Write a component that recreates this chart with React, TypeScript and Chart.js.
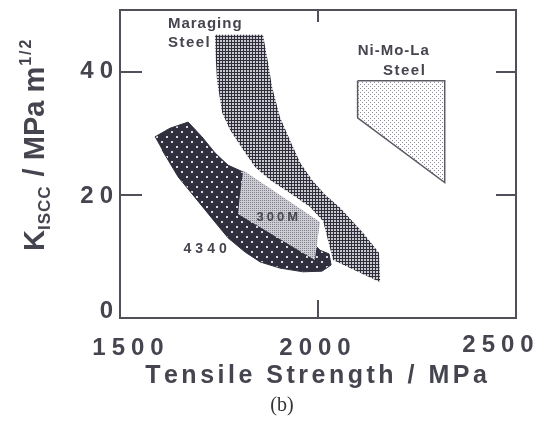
import React, { useEffect, useRef } from "react";
import { Chart, registerables } from "chart.js";

Chart.register(...registerables);

// Outline of each steel's K_ISCC band: tensile strength (MPa) and K_ISCC (MPa m^1/2)
const MARAGING_TS = [1740, 1742, 1745, 1758, 1778, 1811, 1841, 1879, 1929, 1980, 2013, 2025, 2038, 2157, 2154, 2114, 2056, 2018, 1985, 1955, 1929, 1904, 1884, 1874, 1861];
const MARAGING_K = [46, 41.9, 38.6, 33.3, 30.5, 27.3, 24.5, 22.4, 20.3, 18.0, 15.7, 12.7, 9.4, 5.8, 10.6, 13.8, 17.9, 20.0, 22.4, 25.2, 28.9, 32.6, 37.5, 41.4, 46];

const AISI4340_TS = [1588, 1626, 1672, 1707, 1740, 1773, 1811, 1904, 1980, 2005, 2028, 2033, 2010, 1962, 1904, 1854, 1816, 1773, 1732, 1689, 1647, 1606];
const AISI4340_K = [29.4, 30.8, 31.8, 29.4, 26.8, 24.8, 23.7, 18.3, 12.7, 11.0, 10.4, 8.6, 7.6, 7.5, 8.1, 9.1, 10.7, 13.0, 16.2, 19.6, 22.9, 27.3];

const M300_TS = [1811, 2005, 1992, 1798, 1803];
const M300_K = [24.0, 15.6, 9.4, 16.9, 20.0];

const NIMOLA_TS = [2100, 2320, 2320, 2100, 2100];
const NIMOLA_K = [38.5, 38.5, 22, 32.5, 38.5];

const X_TICKS = [1500, 2000, 2500];
const X_TICK_LABELS = ["1500", "2000", "2500"];
const Y_TICKS = [0, 20, 40];
const Y_TICK_LABELS = ["0", "20", "40"];

// Region captions, anchored in data space
const REGION_LABELS = [
  { text: "Maraging", x: 1621, y: 47.7, align: "left", size: 15, spacing: 1 },
  { text: "Steel", x: 1621, y: 44.6, align: "left", size: 15, spacing: 1.5 },
  { text: "Ni-Mo-La", x: 2190, y: 43.3, align: "center", size: 15, spacing: 1 },
  { text: "Steel", x: 2217, y: 40.1, align: "center", size: 15, spacing: 1.5 },
  { text: "4340", x: 1715, y: 11.2, align: "center", size: 14, spacing: 4 },
  { text: "300M", x: 1897, y: 16.4, align: "center", size: 13, spacing: 3 },
];

const INK = "#45454f";
const AXIS = "#50505a";
const SANS = '"Liberation Sans", Arial, Helvetica, sans-serif';

const pts = (xs: number[], ys: number[]) => xs.map((x, i) => ({ x, y: ys[i] }));

function makePattern(size: number, draw: (g: CanvasRenderingContext2D) => void) {
  const c = document.createElement("canvas");
  c.width = size;
  c.height = size;
  const g = c.getContext("2d") as CanvasRenderingContext2D;
  draw(g);
  return g.createPattern(c, "repeat") as CanvasPattern;
}

function spacedWidth(ctx: CanvasRenderingContext2D, text: string, spacing: number) {
  let w = 0;
  for (const ch of text) w += ctx.measureText(ch).width;
  return w + spacing * (text.length - 1);
}

function drawSpaced(ctx: CanvasRenderingContext2D, text: string, x: number, y: number, spacing: number, align: string) {
  const w = spacedWidth(ctx, text, spacing);
  let cx = align === "center" ? x - w / 2 : align === "right" ? x - w : x;
  ctx.textAlign = "left";
  for (const ch of text) {
    ctx.fillText(ch, cx, y);
    cx += ctx.measureText(ch).width + spacing;
  }
  return cx;
}

const textPlugin = {
  id: "steelText",
  afterDatasetsDraw(chart: any) {
    const ctx: CanvasRenderingContext2D = chart.ctx;
    const xs = chart.scales.x;
    const ys = chart.scales.y;
    ctx.save();
    ctx.fillStyle = INK;
    ctx.textBaseline = "middle";
    for (const l of REGION_LABELS) {
      ctx.font = `bold ${l.size}px ${SANS}`;
      drawSpaced(ctx, l.text, xs.getPixelForValue(l.x), ys.getPixelForValue(l.y), l.spacing, l.align);
    }
    ctx.restore();
  },
  afterDraw(chart: any) {
    const ctx: CanvasRenderingContext2D = chart.ctx;
    const xs = chart.scales.x;
    const ys = chart.scales.y;
    ctx.save();
    ctx.fillStyle = INK;

    // x tick labels
    const xNudge = [8, -3, -18];
    const xBase = [355, 355, 352];
    ctx.font = `bold 24px ${SANS}`;
    ctx.textBaseline = "alphabetic";
    X_TICKS.forEach((v, i) => {
      drawSpaced(ctx, X_TICK_LABELS[i], xs.getPixelForValue(v) + xNudge[i], xBase[i], 6, "center");
    });

    // y tick labels
    const yNudge = [-7, 2, 0];
    ctx.textBaseline = "middle";
    Y_TICKS.forEach((v, i) => {
      drawSpaced(ctx, Y_TICK_LABELS[i], xs.left - 7, ys.getPixelForValue(v) + yNudge[i], 6, "right");
    });

    // x title
    ctx.font = `bold 25px ${SANS}`;
    ctx.textBaseline = "alphabetic";
    drawSpaced(ctx, "Tensile Strength / MPa", 316, 383, 3.5, "center");

    // y title, rotated
    ctx.save();
    ctx.translate(44, 251);
    ctx.rotate(-Math.PI / 2);
    let p = 0;
    ctx.font = `bold 29px ${SANS}`;
    p = drawSpaced(ctx, "K", p, 0, 0, "left");
    ctx.font = `bold 17px ${SANS}`;
    p = drawSpaced(ctx, "ISCC", p, 6, 1, "left");
    ctx.font = `bold 29px ${SANS}`;
    p = drawSpaced(ctx, " / MPa m", p + 1, 0, 0, "left");
    ctx.font = `bold 16px ${SANS}`;
    drawSpaced(ctx, "1/2", p + 1, -13, 2, "left");
    ctx.restore();

    // panel caption
    ctx.font = `20px "Liberation Serif", "DejaVu Serif", serif`;
    ctx.fillStyle = "#333";
    ctx.textBaseline = "alphabetic";
    ctx.textAlign = "center";
    ctx.fillText("(b)", 282, 411);
    ctx.restore();
  },
};

export default function App() {
  const ref = useRef<HTMLCanvasElement | null>(null);

  useEffect(() => {
    if (!ref.current) return;

    const maragingFill = makePattern(3, (g) => {
      g.fillStyle = "#2e2e3a";
      g.fillRect(0, 0, 3, 3);
      g.fillStyle = "#c8c8ce";
      g.fillRect(1, 1, 2, 2);
    });
    const fill4340 = makePattern(10, (g) => {
      g.fillStyle = "#2f2f3d";
      g.fillRect(0, 0, 10, 10);
      g.fillStyle = "#d8d8e0";
      g.fillRect(1, 1, 2, 2);
      g.fillRect(6, 6, 2, 2);
    });
    const fill300M = makePattern(2, (g) => {
      g.fillStyle = "#cdcdd3";
      g.fillRect(0, 0, 2, 2);
      g.fillStyle = "#80808a";
      g.fillRect(0, 0, 1, 1);
    });
    const fillNiMoLa = makePattern(4, (g) => {
      g.fillStyle = "#ffffff";
      g.fillRect(0, 0, 4, 4);
      g.fillStyle = "#8c8c96";
      g.fillRect(0, 0, 1, 1);
      g.fillRect(2, 2, 1, 1);
    });

    const band = (label: string, data: any, bg: any, border: any, bw: number) => ({
      label,
      data,
      fill: "shape",
      backgroundColor: bg,
      borderColor: border,
      borderWidth: bw,
      pointRadius: 0,
      tension: 0,
    });

    const axisCommon = (min: number, max: number, ticks: number[], tick: number) => ({
      type: "linear",
      min,
      max,
      afterBuildTicks: (s: any) => {
        s.ticks = ticks.map((value) => ({ value }));
      },
      ticks: { display: false },
      grid: { drawOnChartArea: false, drawTicks: true, tickLength: -tick, color: AXIS, lineWidth: 2 },
      border: { display: true, color: AXIS, width: 2 },
    });

    const chart = new Chart(ref.current, {
      type: "line",
      data: {
        datasets: [
          band("300M", pts(M300_TS, M300_K), fill300M, "rgba(0,0,0,0)", 1),
          band("4340", pts(AISI4340_TS, AISI4340_K), fill4340, "#2f2f3d", 1),
          band("Maraging Steel", pts(MARAGING_TS, MARAGING_K), maragingFill, "rgba(0,0,0,0)", 1),
          band("Ni-Mo-La Steel", pts(NIMOLA_TS, NIMOLA_K), fillNiMoLa, "#5a5a64", 1.5),
        ] as any,
      },
      options: {
        animation: false,
        responsive: false,
        devicePixelRatio: 1,
        layout: { padding: 0 },
        plugins: { legend: { display: false }, tooltip: { enabled: false } },
        scales: {
          x: {
            ...axisCommon(1500, 2500, X_TICKS, 18),
            position: "bottom",
            afterFit: (s: any) => {
              s.height = 112;
            },
          },
          y: {
            ...axisCommon(0, 50, Y_TICKS, 22),
            position: "left",
            afterFit: (s: any) => {
              s.width = 120;
            },
          },
          xTop: {
            ...axisCommon(1500, 2500, X_TICKS, 12),
            position: "top",
            afterFit: (s: any) => {
              s.height = 10;
            },
          },
          yRight: {
            ...axisCommon(0, 50, Y_TICKS, 20),
            position: "right",
            afterFit: (s: any) => {
              s.width = 25;
            },
          },
        } as any,
      },
      plugins: [textPlugin],
    });

    return () => chart.destroy();
  }, []);

  return (
    <div style={{ position: "absolute", left: 0, top: 0, width: 541, height: 430, background: "#fff" }}>
      <canvas ref={ref} width={541} height={430} style={{ display: "block" }} />
    </div>
  );
}
